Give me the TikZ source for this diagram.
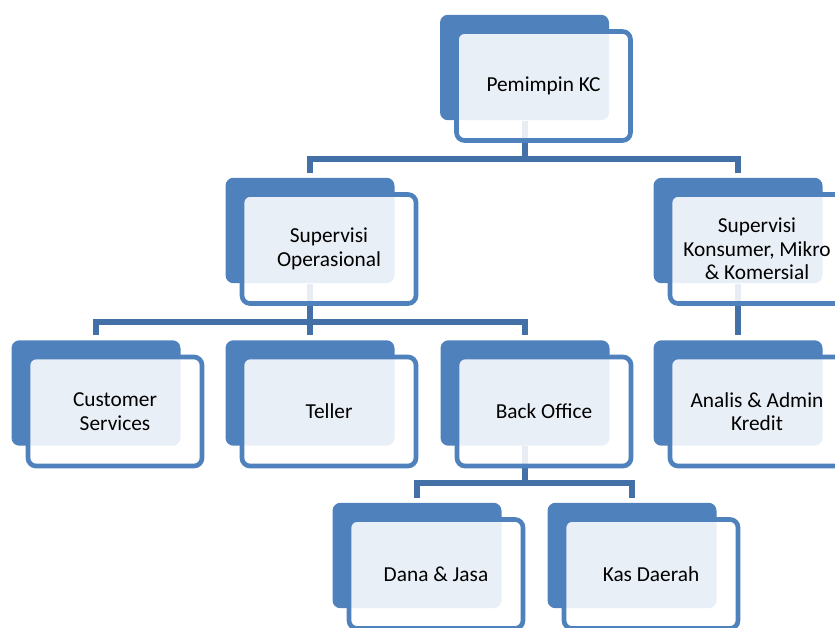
\documentclass[tikz,border=0pt]{standalone}
\usepackage{fontspec}
\setmainfont{Carlito}
\definecolor{backblue}{HTML}{4F81BD}
\definecolor{lineblue}{HTML}{4470A8}

\begin{document}
\begin{tikzpicture}[x=0.75pt, y=-0.75pt,
  backbox/.style={rectangle, rounded corners=6pt, fill=backblue, inner sep=0pt,
    minimum width=126.75pt, minimum height=79.1pt},
  frontbox/.style={rectangle, rounded corners=6pt, draw=backblue, line width=3.5pt,
    fill=white, fill opacity=0.88, text opacity=1, inner sep=2pt, align=center,
    minimum width=130.5pt, minimum height=81.75pt,
    font=\fontsize{16}{17.6}\selectfont},
  conn/.style={draw=lineblue, line width=4.5pt}]
\useasboundingbox (0, 0) rectangle (835, 628);
\clip (0, 0) rectangle (835, 628);
%Depth 0
\node[backbox] (pemb) at (524.5, 67.5) {};
%Depth 1
\node[backbox] (sob) at (310, 230.5) {};
\node[backbox] (skb) at (738, 230.5) {};
%Depth 2
\node[backbox] (csb) at (96, 393) {};
\node[backbox] (tlb) at (310, 393) {};
\node[backbox] (bob) at (525, 393) {};
\node[backbox] (anb) at (738, 393) {};
%Depth 3
\node[backbox] (djb) at (417, 555.5) {};
\node[backbox] (kdb) at (632, 555.5) {};
%Connectors
\draw[conn] (pemb.south) -- ++(0, 38.5) coordinate (bus0);
\draw[conn, shorten >=3.75pt] (bus0) -| (sob.north);
\draw[conn, shorten >=3.75pt] (bus0) -| (skb.north);
\draw[conn] (sob.south) -- ++(0, 38) coordinate (bus1);
\draw[conn, shorten >=3.75pt] (bus1) -| (csb.north);
\draw[conn, shorten >=3.75pt] (bus1) -| (tlb.north);
\draw[conn, shorten >=3.75pt] (bus1) -| (bob.north);
\draw[conn, shorten >=3.75pt] (skb.south) -- (anb.north);
\draw[conn] (bob.south) -- ++(0, 37) coordinate (bus2);
\draw[conn, shorten >=3.75pt] (bus2) -| (djb.north);
\draw[conn, shorten >=3.75pt] (bus2) -| (kdb.north);
%Fronts
\node[frontbox] (pem) at ([shift={(19, 18.5)}]pemb.center) {Pemimpin KC};
\node[frontbox] (so) at ([shift={(19, 18.5)}]sob.center) {Supervisi\\Operasional};
\node[frontbox] (sk) at ([shift={(19, 18.5)}]skb.center) {Supervisi\\Konsumer, Mikro\\\& Komersial};
\node[frontbox] (cs) at ([shift={(19, 18.5)}]csb.center) {Customer\\Services};
\node[frontbox] (tl) at ([shift={(19, 18.5)}]tlb.center) {Teller};
\node[frontbox] (bo) at ([shift={(19, 18.5)}]bob.center) {Back Office};
\node[frontbox] (an) at ([shift={(19, 18.5)}]anb.center) {Analis \& Admin\\Kredit};
\node[frontbox] (dj) at ([shift={(19, 18.5)}]djb.center) {Dana \& Jasa};
\node[frontbox] (kd) at ([shift={(19, 18.5)}]kdb.center) {Kas Daerah};
\end{tikzpicture}
\end{document}
